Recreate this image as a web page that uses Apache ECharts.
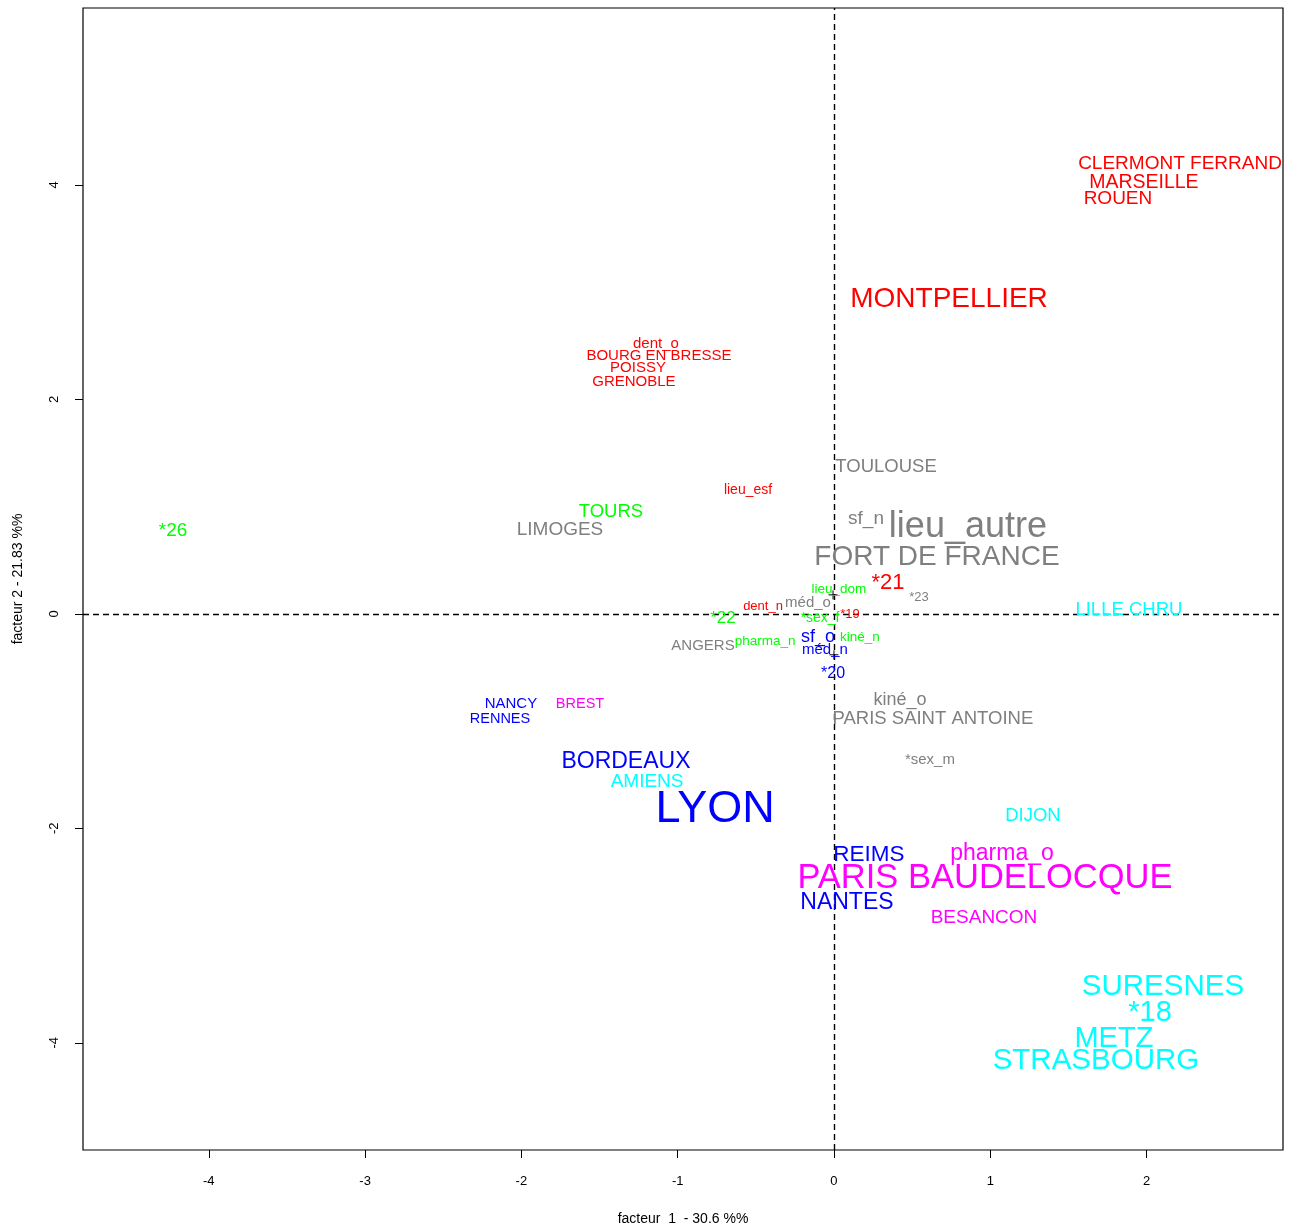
<!DOCTYPE html>
<html>
<head>
<meta charset="utf-8">
<script src="https://cdn.jsdelivr.net/npm/echarts@6/dist/echarts.min.js"></script>
<style>html,body{margin:0;padding:0;background:#fff}#c{width:1299px;height:1232px}</style>
</head>
<body>
<div id="c"></div>
<script>
// ---- data ----
const labels = ["CLERMONT FERRAND","MARSEILLE","ROUEN","MONTPELLIER","dent_o","BOURG EN BRESSE","POISSY","GRENOBLE","lieu_esf","*21","dent_n","*19",
  "TOULOUSE","LIMOGES","sf_n","lieu_autre","FORT DE FRANCE","*23","méd_o","ANGERS","kiné_o","PARIS SAINT ANTOINE","*sex_m",
  "TOURS","*26","lieu_dom","*22","*sex_f","kiné_n","pharma_n",
  "sf_o","méd_n","*20","NANCY","RENNES","BORDEAUX","LYON","REIMS","NANTES",
  "BREST","pharma_o","PARIS BAUDELOCQUE","BESANCON",
  "LILLE CHRU","AMIENS","DIJON","SURESNES","*18","METZ","STRASBOURG"];
const xVals = [2.214,1.983,1.817,0.736,-1.139,-1.120,-1.254,-1.280,-0.550,0.345,-0.454,0.102,
  0.333,-1.753,0.205,0.857,0.659,0.544,-0.166,-0.838,0.422,0.633,0.614,
  -1.427,-4.229,0.032,-0.710,-0.090,0.166,-0.441,
  -0.102,-0.058,-0.006,-2.067,-2.137,-1.331,-0.761,0.224,0.083,
  -1.625,1.075,0.966,0.960,
  1.887,-1.196,1.273,2.105,2.022,1.791,1.676];
const yVals = [4.205,4.028,3.879,2.956,2.527,2.415,2.303,2.172,1.166,0.308,0.075,0.000,
  1.380,0.793,0.895,0.839,0.550,0.159,0.112,-0.289,-0.793,-0.970,-1.352,
  0.960,0.783,0.242,-0.028,-0.028,-0.205,-0.242,
  -0.205,-0.326,-0.550,-0.830,-0.970,-1.361,-1.800,-2.228,-2.676,
  -0.830,-2.219,-2.452,-2.825,
  0.047,-1.557,-1.874,-3.459,-3.702,-3.944,-4.149];
const groups = [0,0,0,0,0,0,0,0,0,0,0,0, 1,1,1,1,1,1,1,1,1,1,1, 2,2,2,2,2,2,2, 3,3,3,3,3,3,3,3,3, 4,4,4,4, 5,5,5,5,5,5,5];
const labelSizes = [19,19.5,19,28,15,15,15,15,14,22,13,13,
  18.5,19,19,36,28,13,15,15,18,18.5,15,
  18.5,19,13.5,17,14,13.5,13.5,
  18,15,16,15,14.5,23,45,22.5,23,
  14.5,23,34.5,19,
  18.5,19,18.5,29.5,29,29,29.5];
const crossX = [-0.006, 0.0];
const crossY = [0.177, -0.382];
const xTicks = [-4,-3,-2,-1,0,1,2];
const yTicks = [-4,-2,0,2,4];
const xTitle = "facteur  1  - 30.6 %%";
const yTitle = "facteur 2 - 21.83 %%";

// ---- styles ----
const colors = ["#FF0000","#7F7F7F","#00FF00","#0000FF","#FF00FF","#00FFFF"];
const FONT = "'Liberation Sans', Arial, sans-serif";

const series = colors.map((col, g) => ({
  type: 'scatter',
  symbolSize: 0,
  silent: true,
  z: 5,
  itemStyle: {opacity: 1, color: col},
  data: labels.map((l, i) => ({l, i})).filter(o => groups[o.i] === g).map(o => ({
    name: o.l,
    value: [xVals[o.i], yVals[o.i]],
    label: {fontSize: labelSizes[o.i], offset: [0, Math.round(labelSizes[o.i] * 0.07)]}
  })),
  label: {
    show: true, position: 'inside', formatter: p => p.name, opacity: 1,
    color: col, fontFamily: FONT, align: 'center', verticalAlign: 'middle'
  }
}));
series.push({
  type: 'scatter', symbol: 'path://M0,5L10,5M5,0L5,10', symbolSize: 9, silent: true,
  itemStyle: {color: 'none', borderColor: '#000', borderWidth: 1, opacity: 1},
  data: crossX.map((x, i) => [x, crossY[i]]),
  markLine: {
    silent: true, symbol: 'none', label: {show: false},
    lineStyle: {color: '#000', type: [6, 4], width: 1.4},
    data: [{xAxis: 0}, {yAxis: 0}]
  }
});

const chart = echarts.init(document.getElementById('c'), null, {renderer: 'canvas'});
chart.setOption({
  animation: false,
  backgroundColor: '#fff',
  grid: {left: 83, right: 16, top: 8, bottom: 82, show: true, borderColor: '#000', borderWidth: 1.2, backgroundColor: 'transparent'},
  xAxis: {
    type: 'value', min: -4.805, max: 2.873,
    name: xTitle, nameLocation: 'middle', nameGap: 62,
    nameTextStyle: {fontFamily: FONT, fontSize: 14, color: '#000'},
    axisLine: {show: false, onZero: false},
    splitLine: {show: false},
    axisTick: {show: true, inside: false, length: 8, lineStyle: {color: '#000'}, customValues: xTicks},
    axisLabel: {customValues: xTicks, fontFamily: FONT, fontSize: 13, color: '#000', margin: 25}
  },
  yAxis: {
    type: 'value', min: -5.0, max: 5.65,
    name: yTitle, nameLocation: 'middle', nameGap: 58, nameRotate: 90,
    nameTextStyle: {fontFamily: FONT, fontSize: 14, color: '#000'},
    axisLine: {show: false, onZero: false},
    splitLine: {show: false},
    axisTick: {show: true, inside: false, length: 8, lineStyle: {color: '#000'}, customValues: yTicks},
    axisLabel: {customValues: yTicks, rotate: 90, fontFamily: FONT, fontSize: 13, color: '#000', margin: 22}
  },
  series
});
</script>
</body>
</html>
